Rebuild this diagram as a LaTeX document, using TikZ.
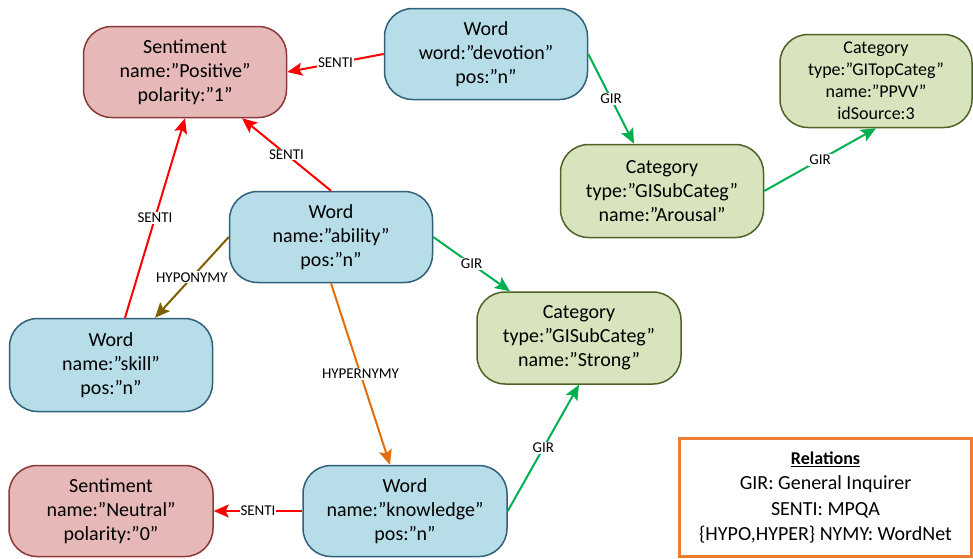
\documentclass[tikz,border=0pt]{standalone}
\usepackage{fontspec}
\setmainfont{Carlito}
\usepackage{tikz}
\usetikzlibrary{positioning}
\usetikzlibrary{arrows.meta}
\definecolor{sentfill}{HTML}{E6B9B8}
\definecolor{sentdraw}{HTML}{8C3836}
\definecolor{wordfill}{HTML}{B7DEE8}
\definecolor{worddraw}{HTML}{31607A}
\definecolor{catfill}{HTML}{D7E4BD}
\definecolor{catdraw}{HTML}{4F6228}
\definecolor{sentiarr}{HTML}{FF0000}
\definecolor{girarr}{HTML}{00B050}
\definecolor{hypoarr}{HTML}{7F6000}
\definecolor{hyperarr}{HTML}{E46C0A}
\definecolor{legdraw}{HTML}{ED7D31}
\tikzset{
  ent/.style={rounded corners=28pt, line width=1.5pt, align=center,
    minimum width=203pt, minimum height=91pt, inner sep=2pt,
    font=\fontsize{20}{24}\selectfont},
  sentnode/.style={ent, fill=sentfill, draw=sentdraw},
  wordnode/.style={ent, fill=wordfill, draw=worddraw},
  catnode/.style={ent, fill=catfill, draw=catdraw},
  rel/.style={line width=2pt, -{Stealth[length=15pt,width=13pt,inset=3pt]}},
  lbl/.style={midway, fill=white, inner sep=1pt, text=black,
    font=\fontsize{15}{17}\selectfont},
}
\begin{document}
\begin{tikzpicture}[x=1pt,y=-1pt]
\useasboundingbox (0,0) rectangle (973,558);
% nodes
\node[sentnode] (pos) at (185,72) {Sentiment\\name:”Positive”\\polarity:”1”};
\node[wordnode] (dev) at (486,54) {Word\\word:”devotion”\\pos:”n”};
\node[catnode, minimum width=192pt, minimum height=93pt,
  font=\fontsize{18}{22}\selectfont] (ppvv) at (876,81)
  {Category\\type:”GITopCateg”\\name:”PPVV”\\idSource:3};
\node[catnode, minimum height=93pt] (aro) at (662,191) {Category\\type:”GISubCateg”\\name:”Arousal”};
\node[wordnode] (abil) at (331,237) {Word\\name:”ability”\\pos:”n”};
\node[wordnode, minimum height=93pt] (skill) at (111,365) {Word\\name:”skill”\\pos:”n”};
\node[catnode, minimum width=204pt, minimum height=92pt] (strong) at (579,338) {Category\\type:”GISubCateg”\\name:”Strong”};
\node[wordnode, minimum width=204pt] (know) at (405,511) {Word\\name:”knowledge”\\pos:”n”};
\node[sentnode, minimum width=204pt] (neu) at (111,511) {Sentiment\\name:”Neutral”\\polarity:”0”};
% legend
\node[draw=legdraw, line width=2.5pt, minimum width=292pt, minimum height=118pt,
  align=center, font=\fontsize{20}{25.5}\selectfont] (leg) at (825.5,497.5)
  {\textbf{\underline{\fontsize{18}{22}\selectfont Relations}}\\GIR: General Inquirer\\SENTI: MPQA\\\{HYPO,HYPER\} NYMY: WordNet};
% relations
\draw[rel, sentiarr] (dev.west) -- (pos.east) node[lbl] {SENTI};
\draw[rel, girarr] (dev.east) -- ([xshift=-28pt]aro.north) node[lbl] {GIR};
\draw[rel, girarr] (aro.east) -- (ppvv.south) node[lbl] {GIR};
\draw[rel, sentiarr] (abil.north) -- ([xshift=57pt]pos.south) node[lbl] {SENTI};
\draw[rel, sentiarr] ([xshift=14pt]skill.north) -- (pos.south) node[lbl] {SENTI};
\draw[rel, hypoarr] (abil.west) -- ([xshift=44pt]skill.north) node[lbl] {HYPONYMY};
\draw[rel, hyperarr] (abil.south) -- ([xshift=-15pt]know.north) node[lbl] {HYPERNYMY};
\draw[rel, girarr] (abil.east) -- ([xshift=-69pt]strong.north) node[lbl] {GIR};
\draw[rel, girarr] (know.east) -- (strong.south) node[lbl] {GIR};
\draw[rel, sentiarr] (know.west) -- (neu.east) node[lbl] {SENTI};
%\draw[dashed] (abil.south) -- (know.north);
\end{tikzpicture}
\end{document}
